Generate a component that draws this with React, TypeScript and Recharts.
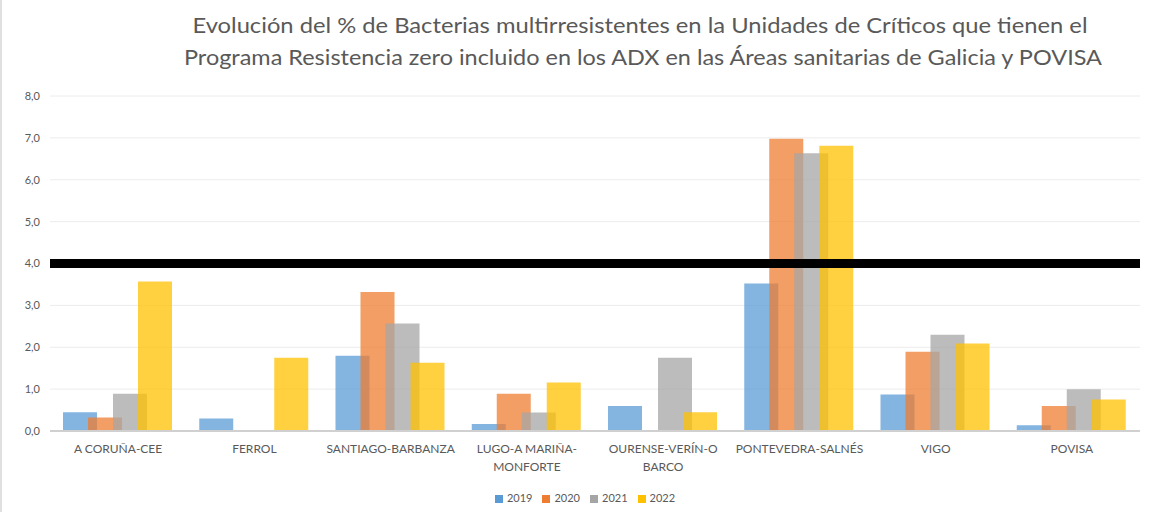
import { BarChart, Bar, XAxis, YAxis, CartesianGrid, Legend, ReferenceLine } from "recharts";

const areas = [
  "A CORUÑA-CEE",
  "FERROL",
  "SANTIAGO-BARBANZA",
  "LUGO-A MARIÑA-MONFORTE",
  "OURENSE-VERÍN-O BARCO",
  "PONTEVEDRA-SALNÉS",
  "VIGO",
  "POVISA",
];

// label lines as they wrap under the axis
const areaLines: Record<string, string[]> = {
  "LUGO-A MARIÑA-MONFORTE": ["LUGO-A MARIÑA-", "MONFORTE"],
  "OURENSE-VERÍN-O BARCO": ["OURENSE-VERÍN-O", "BARCO"],
};

const years = ["2019", "2020", "2021", "2022"];
const v2019 = [0.45, 0.3, 1.8, 0.17, 0.6, 3.52, 0.87, 0.14];
const v2020 = [0.32, 0, 3.32, 0.89, 0, 6.98, 1.89, 0.6];
const v2021 = [0.89, 0, 2.57, 0.44, 1.75, 6.63, 2.3, 1.0];
const v2022 = [3.57, 1.75, 1.63, 1.16, 0.45, 6.81, 2.09, 0.75];
const yTicks = [0, 1, 2, 3, 4, 5, 6, 7, 8];
const threshold = 4;

const titleLines = [
  "Evolución del % de Bacterias multirresistentes en la Unidades de Críticos que tienen el",
  "Programa Resistencia zero incluido en los ADX en las Áreas sanitarias de Galicia y POVISA",
];

const colors = ["#5B9BD5", "#ED7D31", "#A5A5A5", "#FFC000"];

const data = areas.map((area, i) => ({
  area,
  "2019": v2019[i],
  "2020": v2020[i],
  "2021": v2021[i],
  "2022": v2022[i],
}));

const FONT = "Lato, 'Open Sans', sans-serif";

function AreaTick(props: any) {
  const { x, y, payload } = props;
  const lines = areaLines[payload.value] || [payload.value];
  return (
    <g transform={`translate(${x},${y})`}>
      {lines.map((line, i) => (
        <text
          key={i}
          x={0}
          y={0}
          dy={14 + i * 18}
          textAnchor="middle"
          fill="#595959"
          fontSize={12}
          fontFamily={FONT}
        >
          {line}
        </text>
      ))}
    </g>
  );
}

export default function App() {
  return (
    <div
      style={{
        position: "absolute",
        top: 0,
        left: 0,
        width: 1157,
        height: 512,
        background: "#fff",
        borderLeft: "2px solid #e0e0e0",
        boxSizing: "border-box",
        fontFamily: FONT,
      }}
    >
      <svg width={1157} height={80} style={{ position: "absolute", top: 0, left: -2 }}>
        <text x={640} y={33} textAnchor="middle" fill="#595959" fontSize={22} fontFamily={FONT}
          textLength={895} lengthAdjust="spacingAndGlyphs">
          {titleLines[0]}
        </text>
        <text x={643} y={65} textAnchor="middle" fill="#595959" fontSize={22} fontFamily={FONT}
          textLength={918} lengthAdjust="spacingAndGlyphs">
          {titleLines[1]}
        </text>
      </svg>
      <div style={{ position: "absolute", top: 0, left: -2 }}>
        <BarChart
          width={1157}
          height={512}
          data={data}
          margin={{ top: 96, right: 17, left: 0, bottom: 8 }}
          barCategoryGap={13}
          barGap={-9}
        >
          <CartesianGrid vertical={false} stroke="#ececec" />
          <XAxis
            dataKey="area"
            tick={<AreaTick />}
            tickLine={false}
            axisLine={{ stroke: "#d0d0d0", strokeWidth: 2 }}
            interval={0}
            height={60}
          />
          <YAxis
            domain={[0, 8]}
            ticks={yTicks}
            tickFormatter={(v: number) => v.toFixed(1).replace(".", ",")}
            tick={{ fill: "#595959", fontSize: 11, fontFamily: FONT }}
            tickLine={false}
            axisLine={false}
            width={50}
            tickMargin={4}
          />
          <Legend
            iconType="square"
            iconSize={8}
            wrapperStyle={{ fontSize: 11, color: "#595959", left: 20 }}
            formatter={(value: string) => <span style={{ color: "#595959" }}>{value}</span>}
          />
          {years.map((year, i) => (
            <Bar
              key={year}
              dataKey={year}
              fill={colors[i]}
              fillOpacity={0.75}
              isAnimationActive={false}
            />
          ))}
          <ReferenceLine y={threshold} stroke="#000" strokeWidth={9} />
        </BarChart>
      </div>
    </div>
  );
}
